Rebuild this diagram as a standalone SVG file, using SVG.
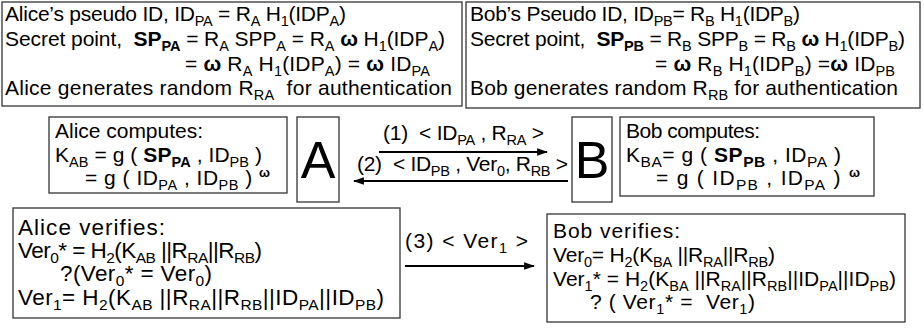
<svg xmlns="http://www.w3.org/2000/svg" width="924" height="330" viewBox="0 0 924 330" xml:space="preserve">
<style>
text{font-family:"Liberation Sans",Arial,sans-serif;font-size:21px;fill:#000;white-space:pre}
.l{font-size:22.5px}
.s{font-size:14.5px;baseline-shift:-5px}
.l .s,.bc .s{font-size:15.5px}
.bd{font-weight:bold}
.sp{font-size:13px;font-weight:bold;baseline-shift:8px}
.box{fill:#fff;stroke:#333;stroke-width:1.3}
.big{font-size:52px}
.ar{stroke:#000;stroke-width:2.2;fill:none}
</style>
<defs>
<marker id="ah" viewBox="0 0 10 10" refX="9" refY="5" markerWidth="5" markerHeight="5" orient="auto" markerUnits="strokeWidth">
<path d="M0,1.5 L10,5 L0,8.5 z" fill="#000"/>
</marker>
</defs>
<g id="alice-setup">
<rect class="box" x="2" y="2" width="460" height="104"/>
<text x="5" y="21" textLength="341" lengthAdjust="spacing">Alice’s pseudo ID, ID<tspan class="s">PA</tspan> = R<tspan class="s">A</tspan> H<tspan class="s">1</tspan>(IDP<tspan class="s">A</tspan>)</text>
<text x="5" y="46" textLength="440" lengthAdjust="spacing">Secret point,  <tspan class="bd">SP</tspan><tspan class="s bd">PA</tspan> = R<tspan class="s">A</tspan> SPP<tspan class="s">A</tspan> = R<tspan class="s">A</tspan> <tspan class="bd">ω</tspan> H<tspan class="s">1</tspan>(IDP<tspan class="s">A</tspan>)</text>
<text x="185" y="71" textLength="245" lengthAdjust="spacing">= <tspan class="bd">ω</tspan> R<tspan class="s">A</tspan> H<tspan class="s">1</tspan>(IDP<tspan class="s">A</tspan>) = <tspan class="bd">ω</tspan> ID<tspan class="s">PA</tspan></text>
<text x="5" y="95" textLength="447" lengthAdjust="spacing">Alice generates random R<tspan class="s">RA</tspan>  for authentication</text>
</g>
<g id="bob-setup">
<rect class="box" x="466" y="2" width="454" height="106"/>
<text x="470" y="21" textLength="330" lengthAdjust="spacing">Bob’s Pseudo ID, ID<tspan class="s">PB</tspan>= R<tspan class="s">B</tspan> H<tspan class="s">1</tspan>(IDP<tspan class="s">B</tspan>)</text>
<text x="470" y="46" textLength="435" lengthAdjust="spacing">Secret point,  <tspan class="bd">SP</tspan><tspan class="s bd">PB</tspan> = R<tspan class="s">B</tspan> SPP<tspan class="s">B</tspan> = R<tspan class="s">B</tspan> <tspan class="bd">ω</tspan> H<tspan class="s">1</tspan>(IDP<tspan class="s">B</tspan>)</text>
<text x="655" y="71" textLength="240" lengthAdjust="spacing">= <tspan class="bd">ω</tspan> R<tspan class="s">B</tspan> H<tspan class="s">1</tspan>(IDP<tspan class="s">B</tspan>) =<tspan class="bd">ω</tspan> ID<tspan class="s">PB</tspan></text>
<text x="470" y="95" textLength="428" lengthAdjust="spacing">Bob generates random R<tspan class="s">RB</tspan> for authentication</text>
</g>
<g id="alice-computes">
<rect class="box" x="49" y="117" width="238" height="76"/>
<text x="55" y="138" textLength="148" lengthAdjust="spacing">Alice computes:</text>
<text x="55" y="162" textLength="207" lengthAdjust="spacing">K<tspan class="s">AB</tspan> = g ( <tspan class="bd">SP</tspan><tspan class="s bd">PA</tspan> , ID<tspan class="s">PB</tspan> )</text>
<text x="85" y="185" textLength="185" lengthAdjust="spacing">= g ( ID<tspan class="s">PA</tspan> , ID<tspan class="s">PB</tspan> ) <tspan class="sp">ω</tspan></text>
</g>
<g id="A">
<rect class="box" x="297" y="117" width="42" height="85"/>
<text class="big" x="318" y="178" text-anchor="middle">A</text>
</g>
<g id="B">
<rect class="box" x="572" y="117" width="40" height="85"/>
<text class="big" x="592" y="178" text-anchor="middle">B</text>
</g>
<g id="bob-computes">
<rect class="box" x="620" y="117" width="254" height="79"/>
<text x="626" y="138" textLength="134" lengthAdjust="spacing">Bob computes:</text>
<text class="bc" x="626" y="162" textLength="215" lengthAdjust="spacing">K<tspan class="s">BA</tspan>= g ( <tspan class="bd">SP</tspan><tspan class="s bd">PB</tspan> , ID<tspan class="s">PA</tspan> )</text>
<text class="bc" x="656" y="185" textLength="204" lengthAdjust="spacing">= g ( ID<tspan class="s">PB</tspan> , ID<tspan class="s">PA</tspan> ) <tspan class="sp">ω</tspan></text>
</g>
<g id="alice-verifies">
<rect class="box" x="13" y="208" width="387" height="110"/>
<text class="l" x="18" y="235" textLength="147" lengthAdjust="spacing">Alice verifies:</text>
<text class="l" x="18" y="258" textLength="244" lengthAdjust="spacing">Ver<tspan class="s">0</tspan>* = H<tspan class="s">2</tspan>(K<tspan class="s">AB</tspan> ||R<tspan class="s">RA</tspan>||R<tspan class="s">RB</tspan>)</text>
<text class="l" x="60" y="281" textLength="152" lengthAdjust="spacing">?(Ver<tspan class="s">0</tspan>* = Ver<tspan class="s">0</tspan>)</text>
<text class="l" x="18" y="305" textLength="366" lengthAdjust="spacing">Ver<tspan class="s">1</tspan>= H<tspan class="s">2</tspan>(K<tspan class="s">AB</tspan> ||R<tspan class="s">RA</tspan>||R<tspan class="s">RB</tspan>||ID<tspan class="s">PA</tspan>||ID<tspan class="s">PB</tspan>)</text>
</g>
<g id="bob-verifies">
<rect class="box" x="547" y="214" width="358" height="108"/>
<text x="553" y="238" textLength="127" lengthAdjust="spacing">Bob verifies:</text>
<text x="553" y="262" textLength="222" lengthAdjust="spacing">Ver<tspan class="s">0</tspan>= H<tspan class="s">2</tspan>(K<tspan class="s">BA</tspan> ||R<tspan class="s">RA</tspan>||R<tspan class="s">RB</tspan>)</text>
<text x="553" y="286" textLength="343" lengthAdjust="spacing">Ver<tspan class="s">1</tspan>* = H<tspan class="s">2</tspan>(K<tspan class="s">BA</tspan> ||R<tspan class="s">RA</tspan>||R<tspan class="s">RB</tspan>||ID<tspan class="s">PA</tspan>||ID<tspan class="s">PB</tspan>)</text>
<text x="590" y="309" textLength="165" lengthAdjust="spacing">? ( Ver<tspan class="s">1</tspan>* =  Ver<tspan class="s">1</tspan>)</text>
</g>
<g id="connectors">
<line class="ar" x1="379" y1="152" x2="547" y2="152" marker-end="url(#ah)"/>
<text x="383" y="140" textLength="161" lengthAdjust="spacing">(1)  &lt; ID<tspan class="s">PA</tspan> , R<tspan class="s">RA</tspan> &gt;</text>
<line class="ar" x1="568" y1="181" x2="354" y2="181" marker-end="url(#ah)"/>
<text x="357" y="171" textLength="211" lengthAdjust="spacing">(2)  &lt; ID<tspan class="s">PB</tspan> , Ver<tspan class="s">0</tspan>, R<tspan class="s">RB</tspan> &gt;</text>
<line class="ar" x1="405" y1="266" x2="534" y2="266" marker-end="url(#ah)"/>
<text x="405" y="248" textLength="123" lengthAdjust="spacing">(3) &lt; Ver<tspan class="s">1</tspan> &gt;</text>
</g>
</svg>
